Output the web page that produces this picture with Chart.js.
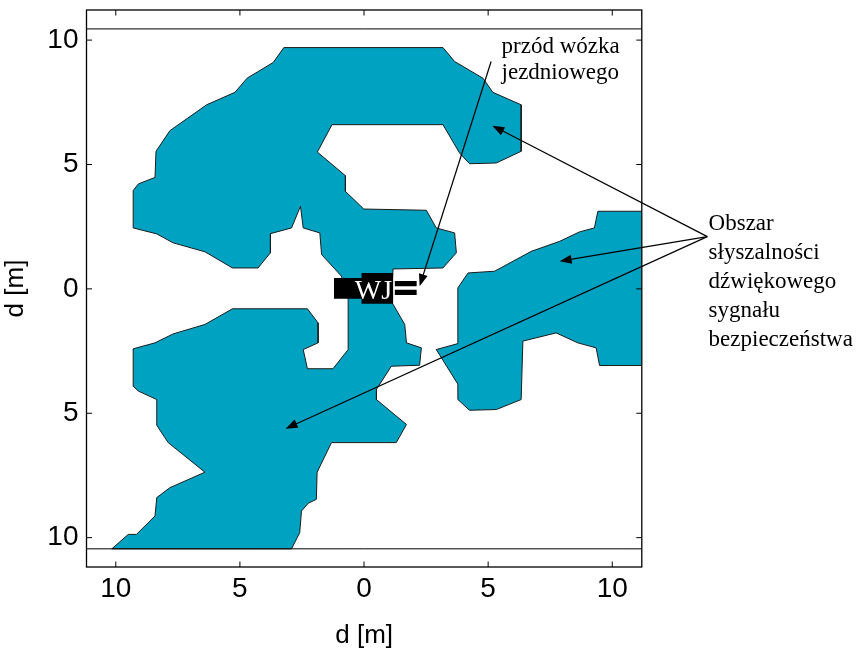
<!DOCTYPE html>
<html>
<head>
<meta charset="utf-8">
<script src="https://cdn.jsdelivr.net/npm/chart.js@4.4.1/dist/chart.umd.min.js"></script>
<style>
  html, body { margin: 0; padding: 0; background: #ffffff; }
  #wrap { width: 862px; height: 648px; position: relative; }
</style>
</head>
<body>
<div id="wrap"><canvas id="chart"></canvas></div>
<script>
// ---- axes -------------------------------------------------------------
const X_TICKS = [-10, -5, 0, 5, 10];
const Y_TICKS = [-10, -5, 0, 5, 10];
const X_LIMITS = [-11.18, 11.19];
const Y_LIMITS = [-11.18, 11.21];

// limits of the measured field (drawn as horizontal rules)
const FIELD_EDGES = [10.45, -10.45];

// ---- audibility zones, polygon vertices [x, y] in metres ---------------
const ZONE_WEST = [
  [-3.23, 9.70], [3.18, 9.70], [3.65, 9.14], [4.79, 8.47], [5.19, 7.90],
  [6.33, 7.40], [6.33, 5.53], [5.33, 5.06], [4.25, 5.03], [3.85, 5.46],
  [3.18, 6.60], [-1.29, 6.60], [-1.88, 5.50], [-0.75, 4.55], [-0.75, 3.92],
  [-0.01, 3.21], [2.51, 3.16], [2.91, 2.45], [3.65, 2.25], [3.72, 1.45],
  [3.18, 0.84], [1.17, 0.80], [1.10, -0.50], [1.64, -1.43], [1.71, -2.17],
  [2.31, -2.37], [2.24, -3.07], [1.10, -3.11], [0.50, -4.04], [0.50, -4.45],
  [1.71, -5.45], [1.30, -6.18], [-1.31, -6.18], [-1.89, -7.37], [-1.92, -8.46],
  [-2.25, -8.62], [-2.52, -8.93], [-2.59, -9.80], [-2.92, -10.45], [-10.16, -10.45],
  [-9.50, -9.87], [-9.17, -9.87], [-8.42, -9.13], [-8.35, -8.39], [-7.82, -7.99],
  [-6.41, -7.37], [-7.89, -6.18], [-8.35, -5.48], [-8.35, -4.45], [-9.09, -4.11],
  [-9.30, -3.91], [-9.30, -2.41], [-8.42, -2.17], [-7.69, -1.81], [-6.41, -1.43],
  [-5.30, -0.80], [-2.28, -0.80], [-1.85, -1.37], [-1.85, -2.17], [-2.45, -2.44],
  [-2.28, -3.21], [-1.25, -3.21], [-0.64, -2.44], [-0.64, -0.43], [-0.91, 0.51],
  [-1.71, 1.38], [-1.78, 2.25], [-2.45, 2.45], [-2.56, 3.32], [-2.92, 2.45],
  [-3.77, 2.22], [-3.77, 1.45], [-4.27, 0.84], [-5.30, 0.84], [-6.41, 1.49],
  [-7.69, 1.85], [-8.35, 2.21], [-9.30, 2.45], [-9.30, 3.95], [-9.09, 4.22],
  [-8.42, 4.48], [-8.38, 5.53], [-7.82, 6.36], [-6.34, 7.40], [-5.20, 7.90],
  [-4.71, 8.47], [-3.66, 9.10]
];

const ZONE_EAST = [
  [9.42, 3.12], [11.6, 3.12], [11.6, -3.08], [9.49, -3.08], [9.35, -2.37],
  [8.61, -2.17], [7.74, -1.77], [6.40, -2.10], [6.33, -4.45], [5.33, -4.85],
  [4.25, -4.88], [3.78, -4.45], [3.78, -3.83], [2.91, -2.44], [3.78, -2.20],
  [3.78, 0.04], [4.19, 0.64], [5.26, 0.71], [6.74, 1.51], [7.88, 1.91],
  [8.68, 2.29], [9.28, 2.45]
];

// ---- forklift symbol (WJ) ---------------------------------------------
const TRUCK_BODY  = [[-1.21, 0.44], [1.17, 0.44], [1.17, -0.40], [-1.21, -0.40]];
const TRUCK_CAB   = [[-0.10, 0.64], [1.17, 0.64], [1.17, -0.60], [-0.10, -0.60]];
const FORK_UPPER  = [[1.24, 0.32], [2.12, 0.32], [2.12, 0.11], [1.24, 0.11]];
const FORK_LOWER  = [[1.24, -0.04], [2.12, -0.04], [2.12, -0.25], [1.24, -0.25]];

// ---- labels and pointers ----------------------------------------------
const TRUCK_LABEL = 'WJ';
const FRONT_LINES = ['przód wózka', 'jezdniowego'];
const ZONE_LINES  = ['Obszar', 'słyszalności', 'dźwiękowego', 'sygnału', 'bezpieczeństwa'];
const AXIS_TITLE  = 'd [m]';

// anchors in data units (x, baseline y), pointer start/end in data units
const LAYOUT = {
  truckLabel: { at: [0.38, -0.42], size: 28 },
  front: { at: [5.54, 9.48], step: 1.03, size: 23 },
  zone:  { at: [13.88, 2.38], step: 1.17, size: 23 },
  pointers: [
    { from: [5.12, 9.14],  to: [2.24, 0.11] },
    { from: [13.83, 2.10], to: [5.17, 6.56] },
    { from: [13.83, 2.10], to: [7.88, 1.11] },
    { from: [13.83, 2.10], to: [-3.16, -5.62] }
  ]
};

const STYLE = {
  zoneFill: '#00A2C2',
  zoneEdge: '#1c1c1c',
  ink: '#000000',
  tickLen: 5.5,
  sans: 'Liberation Sans',
  serif: 'Liberation Serif'
};

function toPoints(poly) {
  const pts = poly.map(p => ({ x: p[0], y: p[1] }));
  pts.push({ x: poly[0][0], y: poly[0][1] });
  return pts;
}

function polygonSet(poly, fill, edge, edgeWidth, order) {
  return {
    data: toPoints(poly),
    showLine: true,
    fill: 'shape',
    backgroundColor: fill,
    borderColor: edge,
    borderWidth: edgeWidth,
    pointRadius: 0,
    pointHoverRadius: 0,
    tension: 0,
    order: order
  };
}

function ruleSet(yValue) {
  return {
    data: [{ x: X_LIMITS[0], y: yValue }, { x: X_LIMITS[1], y: yValue }],
    showLine: true,
    fill: false,
    borderColor: STYLE.ink,
    borderWidth: 1,
    pointRadius: 0,
    pointHoverRadius: 0,
    order: 2
  };
}

const datasets = [
  polygonSet(ZONE_WEST, STYLE.zoneFill, STYLE.zoneEdge, 1, 3),
  polygonSet(ZONE_EAST, STYLE.zoneFill, STYLE.zoneEdge, 1, 3),
  ...FIELD_EDGES.map(ruleSet),
  polygonSet(TRUCK_BODY, '#000', '#000', 0, 1),
  polygonSet(TRUCK_CAB, '#000', '#000', 0, 1),
  polygonSet(FORK_UPPER, '#000', '#000', 0, 1),
  polygonSet(FORK_LOWER, '#000', '#000', 0, 1)
];

function toPx(chart, p) {
  return [chart.scales.x.getPixelForValue(p[0]), chart.scales.y.getPixelForValue(p[1])];
}

function drawPointer(ctx, a, b) {
  const ang = Math.atan2(b[1] - a[1], b[0] - a[0]);
  const c = Math.cos(ang), s = Math.sin(ang);
  const len = 12, half = 4.5;
  ctx.beginPath();
  ctx.moveTo(a[0], a[1]);
  ctx.lineTo(b[0] - c * len * 0.8, b[1] - s * len * 0.8);
  ctx.stroke();
  ctx.beginPath();
  ctx.moveTo(b[0], b[1]);
  ctx.lineTo(b[0] - c * len - s * half, b[1] - s * len + c * half);
  ctx.lineTo(b[0] - c * len + s * half, b[1] - s * len - c * half);
  ctx.closePath();
  ctx.fill();
}

const overlay = {
  id: 'overlay',
  afterDatasetsDraw(chart) {
    const ctx = chart.ctx;
    const area = chart.chartArea;
    const xs = chart.scales.x, ys = chart.scales.y;
    ctx.save();

    // truck label
    const t = LAYOUT.truckLabel;
    const tp = toPx(chart, t.at);
    ctx.fillStyle = '#ffffff';
    ctx.font = t.size + 'px "' + STYLE.serif + '"';
    ctx.textAlign = 'center';
    ctx.textBaseline = 'alphabetic';
    ctx.fillText(TRUCK_LABEL, tp[0], tp[1]);

    // frame
    ctx.strokeStyle = STYLE.ink;
    ctx.lineWidth = 1.3;
    ctx.strokeRect(area.left, area.top, area.right - area.left, area.bottom - area.top);

    // inward tick marks on all four sides
    ctx.lineWidth = 1;
    ctx.beginPath();
    xs.ticks.forEach(tk => {
      const x = xs.getPixelForValue(tk.value);
      ctx.moveTo(x, area.bottom); ctx.lineTo(x, area.bottom - STYLE.tickLen);
      ctx.moveTo(x, area.top);    ctx.lineTo(x, area.top + STYLE.tickLen);
    });
    ys.ticks.forEach(tk => {
      const y = ys.getPixelForValue(tk.value);
      ctx.moveTo(area.left, y);  ctx.lineTo(area.left + STYLE.tickLen, y);
      ctx.moveTo(area.right, y); ctx.lineTo(area.right - STYLE.tickLen, y);
    });
    ctx.stroke();

    // pointers
    ctx.strokeStyle = STYLE.ink;
    ctx.fillStyle = STYLE.ink;
    ctx.lineWidth = 1.2;
    LAYOUT.pointers.forEach(p => drawPointer(ctx, toPx(chart, p.from), toPx(chart, p.to)));

    // notes
    ctx.textAlign = 'left';
    ctx.textBaseline = 'alphabetic';
    [[FRONT_LINES, LAYOUT.front], [ZONE_LINES, LAYOUT.zone]].forEach(([lines, cfg]) => {
      ctx.font = cfg.size + 'px "' + STYLE.serif + '"';
      lines.forEach((line, i) => {
        const p = toPx(chart, [cfg.at[0], cfg.at[1] - i * cfg.step]);
        ctx.fillText(line, p[0], p[1]);
      });
    });
    ctx.restore();
  }
};

function axisOptions(limits, ticks, isX) {
  return {
    type: 'linear',
    min: limits[0],
    max: limits[1],
    afterBuildTicks: s => { s.ticks = ticks.map(v => ({ value: v })); },
    afterFit: s => {
      if (isX) { s.height = 81; } else { s.width = 86.5; }
      s.paddingTop = 0; s.paddingBottom = 0; s.paddingLeft = 0; s.paddingRight = 0;
    },
    grid: { display: false, drawTicks: false },
    border: { display: false },
    ticks: {
      padding: isX ? 5 : 8,
      autoSkip: false,
      maxRotation: 0,
      color: STYLE.ink,
      font: { family: STYLE.sans, size: 28 },
      callback: v => String(Math.abs(v))
    },
    title: {
      display: true,
      text: AXIS_TITLE,
      color: STYLE.ink,
      padding: isX ? { top: 0, bottom: -3 } : 0,
      font: { family: STYLE.sans, size: 26 }
    }
  };
}

new Chart(document.getElementById('chart'), {
  type: 'scatter',
  data: { datasets },
  options: {
    responsive: true,
    maintainAspectRatio: false,
    devicePixelRatio: 1,
    animation: false,
    events: [],
    layout: { padding: { left: 0, right: 220.2, top: 10, bottom: 0 } },
    plugins: { legend: { display: false }, tooltip: { enabled: false } },
    scales: {
      x: axisOptions(X_LIMITS, X_TICKS, true),
      y: axisOptions(Y_LIMITS, Y_TICKS, false)
    }
  },
  plugins: [overlay]
});
</script>
</body>
</html>
